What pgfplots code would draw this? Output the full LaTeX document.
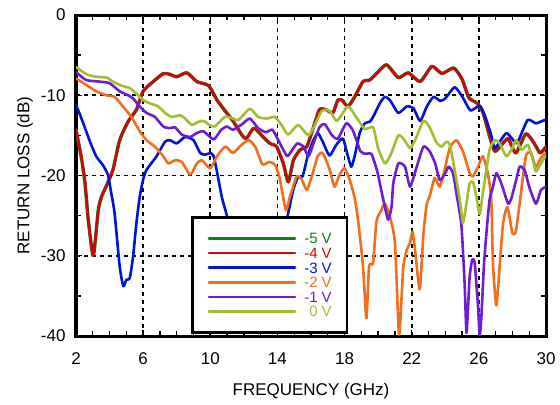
\documentclass[border=0pt]{standalone}
\usepackage{fontspec}
\setmainfont{Liberation Sans}
\usepackage{pgfplots}
\pgfplotsset{compat=1.18}
\usetikzlibrary{calc}
\definecolor{cG}{RGB}{20,125,35}
\definecolor{cR}{RGB}{200,10,10}
\definecolor{cB}{RGB}{0,20,210}
\definecolor{cO}{RGB}{240,110,30}
\definecolor{cP}{RGB}{110,30,210}
\definecolor{cL}{RGB}{160,190,50}
\begin{document}
\begin{tikzpicture}
\begin{axis}[
  scale only axis, width=470pt, height=321pt,
  xmin=2, xmax=30, ymin=-40, ymax=0,
  xtick={2,6,10,14,18,22,26,30}, xticklabels={2,6,10,14,18,22,26,30},
  ytick={-40,-30,-20,-10,0}, yticklabels={-40,-30,-20,-10,0},
  minor x tick num=3, minor y tick num=1,
  tick align=inside, major tick length=6pt, minor tick length=5pt,
  tick style={black, line width=1.4pt},
  axis line style={line width=3pt},
  grid=major, major grid style={black, line width=1.8pt, dash pattern=on 4pt off 4pt},
  tick label style={font=\fontsize{17}{17}\selectfont},
  xticklabel style={yshift=-13pt},
  yticklabel style={xshift=-7pt},
  xlabel={FREQUENCY (GHz)}, ylabel={RETURN LOSS (dB)},
  label style={font=\fontsize{17}{17}\selectfont},
  xlabel style={at={(axis description cs:0.5,-0.171)}, anchor=center},
  ylabel style={at={(axis description cs:-0.1085,0.5)}, anchor=center},
  legend image code/.code={\draw[#1, line width=2.6pt] (0pt,0pt) -- (86pt,0pt);},
  legend style={at={(axis cs:8.875,-25.09)}, anchor=north west, draw=black, line width=2.5pt, fill=white,
    inner xsep=15pt, inner ysep=15.5pt, row sep=3.9pt, column sep=8pt,
    nodes={inner sep=0pt, text height=10.7pt, text depth=0pt, font=\fontsize{15}{15}\selectfont}},
  legend cell align=left,
  every axis plot/.append style={line join=round, line cap=round, smooth, tension=0.35},
]
% -5 V (nearly identical to -4 V)
\addplot[cG, line width=3.4pt] coordinates {
(2.0,-14.3)(2.34,-18)(2.54,-21)(2.73,-25.5)(3.03,-30)(3.33,-24.3)(3.53,-22.6)(3.83,-21.2)(4.2,-19.3)(4.6,-15.6)(5.1,-13.3)(5.6,-11.8)(6.0,-9.5)(6.6,-8.3)(7.2,-7.3)(7.6,-7.4)(8.0,-7.7)(8.6,-7.2)(9.2,-8.3)(9.9,-8.8)(10.4,-10.6)(10.9,-12)(11.35,-13.2)(11.9,-15)(12.15,-15.4)(12.6,-14.1)(13.15,-15.2)(13.55,-16)(13.95,-16.4)(14.35,-18.5)(14.65,-20.8)(14.95,-18.1)(15.35,-16.8)(15.75,-16.4)(16.1,-14.3)(16.5,-11.8)(16.9,-11.8)(17.3,-12.2)(17.6,-10.6)(17.85,-10.6)(18.2,-11.4)(18.6,-10.2)(19.1,-8.3)(19.5,-8.1)(19.9,-7.3)(20.5,-6.2)(21.2,-7.8)(21.8,-7.2)(22.5,-8.3)(23.2,-6.4)(23.8,-7.3)(24.5,-6.6)(25.0,-8.0)(25.4,-10.3)(25.9,-11)(26.25,-12.2)(26.65,-15.2)(26.95,-17)(27.35,-16.2)(27.75,-15.4)(28.2,-17.2)(28.8,-14.8)(29.3,-16)(29.65,-17.2)(30,-16.4)
};
\addlegendentry{\textcolor{cG}{-5 V}}
% -4 V
\addplot[cR, line width=2.6pt] coordinates {
(2.0,-14.3)(2.34,-18)(2.54,-21)(2.73,-25.5)(3.03,-30)(3.33,-24.3)(3.53,-22.6)(3.83,-21.2)(4.2,-19.3)(4.6,-15.6)(5.1,-13.3)(5.6,-11.8)(6.0,-9.5)(6.6,-8.3)(7.2,-7.3)(7.6,-7.4)(8.0,-7.7)(8.6,-7.2)(9.2,-8.3)(9.9,-8.8)(10.4,-10.6)(10.9,-12)(11.35,-13.2)(11.9,-15)(12.15,-15.4)(12.6,-14.1)(13.15,-15.2)(13.55,-16)(13.95,-16.4)(14.35,-18.5)(14.65,-20.8)(14.95,-18.1)(15.35,-16.8)(15.75,-16.4)(16.1,-14.3)(16.5,-11.8)(16.9,-11.8)(17.3,-12.2)(17.6,-10.6)(17.85,-10.6)(18.2,-11.4)(18.6,-10.2)(19.1,-8.3)(19.5,-8.1)(19.9,-7.3)(20.5,-6.2)(21.2,-7.8)(21.8,-7.2)(22.5,-8.3)(23.2,-6.4)(23.8,-7.3)(24.5,-6.6)(25.0,-8.0)(25.4,-10.3)(25.9,-11)(26.25,-12.2)(26.65,-15.2)(26.95,-17)(27.35,-16.2)(27.75,-15.4)(28.2,-17.2)(28.8,-14.8)(29.3,-16)(29.65,-17.2)(30,-16.4)
};
\addlegendentry{\textcolor{cR}{-4 V}}
% -3 V
\addplot[cB, line width=2.6pt] coordinates {
(2.0,-11.2)(2.4,-13.3)(2.8,-15.6)(3.2,-17.6)(3.6,-18.7)(3.9,-19.9)(4.1,-22.2)(4.3,-24.7)(4.6,-31.3)(4.82,-33.8)(5.0,-33)(5.2,-32.8)(5.4,-30.1)(5.6,-25.9)(5.8,-22.6)(6.0,-20.5)(6.2,-19.3)(6.8,-17.6)(7.3,-15.8)(7.6,-15.6)(8.0,-16)(8.5,-15.2)(9.0,-15.6)(9.4,-17.2)(9.7,-17.4)(10.0,-17.2)(10.2,-17.6)(10.45,-20.1)(10.7,-22.8)(11.0,-25.1)(11.5,-30)(12.5,-35)(13.5,-34)(14.2,-29)(14.64,-24.7)(14.94,-21.8)(15.2,-20.3)(15.5,-20.1)(15.8,-17.6)(16.1,-15.8)(16.4,-14.7)(16.7,-15.8)(17.1,-17.5)(17.5,-16.2)(17.9,-15.4)(18.2,-17.6)(18.4,-18.9)(18.6,-17.6)(18.9,-14.7)(19.2,-13.5)(19.5,-13.3)(19.7,-12.7)(20.1,-11)(20.4,-10.2)(20.7,-10.6)(21.2,-12.2)(21.7,-11.4)(22.1,-11.6)(22.5,-13.2)(22.9,-11.4)(23.3,-10.2)(23.7,-10.7)(24.0,-10.4)(24.56,-9.0)(25.05,-10.3)(25.5,-11.9)(26.05,-11.3)(26.35,-12.5)(26.7,-14.7)(26.94,-16.6)(27.24,-15.8)(27.65,-14.7)(28.05,-15.6)(28.3,-15.9)(28.9,-13.1)(29.4,-13.5)(29.9,-13.1)(30,-13.2)
};
\addlegendentry{\textcolor{cB}{-3 V}}
% -2 V
\addplot[cO, line width=2.6pt] coordinates {
(2.0,-7.9)(2.6,-8.7)(3.2,-9.5)(3.8,-10)(4.3,-10.2)(4.8,-11.4)(5.3,-12.7)(5.8,-14.5)(6.2,-15.6)(6.7,-16.4)(7.2,-17.6)(7.5,-18.5)(7.9,-18.1)(8.3,-18.3)(8.8,-19.9)(9.2,-18.5)(9.5,-18.1)(10.0,-19.1)(10.4,-17.6)(10.9,-16.4)(11.35,-17.2)(11.85,-16.2)(12.3,-15.6)(12.7,-16.5)(13.1,-18.6)(13.55,-18.3)(13.9,-18.8)(14.15,-20.5)(14.5,-24.3)(14.75,-22.6)(15.15,-20.1)(15.45,-20.5)(15.75,-21.8)(16.05,-20.1)(16.4,-17.6)(16.7,-17.2)(17.1,-19.2)(17.4,-21.4)(17.7,-19.9)(18.0,-19.1)(18.3,-20.5)(18.6,-22.8)(18.8,-25.5)(19.1,-31.3)(19.3,-37.8)(19.46,-31.3)(19.7,-30.9)(19.9,-25.7)(20.2,-24.3)(20.4,-23.5)(20.7,-25.1)(21.0,-28.4)(21.24,-39.8)(21.4,-35)(21.5,-31.3)(21.7,-29.3)(21.9,-28.4)(22.05,-27)(22.2,-29.3)(22.48,-34.2)(22.7,-27.2)(22.9,-23.5)(23.07,-22.6)(23.37,-20.3)(23.67,-21.4)(23.96,-19.3)(24.26,-16.6)(24.66,-15.6)(25.05,-17)(25.45,-19.7)(25.65,-20.1)(25.95,-18.9)(26.24,-17.6)(26.54,-19.8)(26.74,-23)(26.84,-31)(27.04,-36.2)(27.24,-31.3)(27.44,-26)(27.7,-23.9)(28.0,-27.2)(28.2,-27)(28.43,-23.5)(28.8,-17.6)(29.1,-17.2)(29.4,-18.9)(29.7,-17.8)(30,-17.2)
};
\addlegendentry{\textcolor{cO}{-2 V}}
% -1 V
\addplot[cP, line width=2.6pt] coordinates {
(2.0,-7.1)(2.6,-8.1)(3.4,-8.3)(4.0,-8.5)(4.6,-9.5)(5.1,-10)(5.4,-10.4)(5.8,-11.4)(6.2,-12.2)(6.7,-12.7)(7.2,-13.9)(7.6,-14.1)(7.9,-14)(8.3,-14.9)(8.8,-15.2)(9.2,-14.7)(9.6,-14.5)(10.2,-15.5)(10.65,-14.3)(11.0,-13.9)(11.36,-14.3)(11.9,-13.6)(12.36,-12.9)(12.85,-14.1)(13.3,-14.6)(13.7,-14.3)(14.05,-15.6)(14.35,-16.8)(14.6,-17.6)(14.95,-16.6)(15.2,-16)(15.55,-16.4)(15.85,-17.6)(16.15,-16)(16.5,-14)(16.82,-13.6)(17.25,-15)(17.6,-15.4)(18.1,-13.5)(18.5,-14.4)(18.95,-17)(19.3,-17.3)(19.6,-17.3)(19.95,-19.5)(20.2,-22)(20.4,-23.9)(20.6,-25.5)(20.8,-23.9)(20.9,-21)(21.2,-18.5)(21.6,-18.9)(21.9,-21.4)(22.3,-18.9)(22.7,-16.4)(23.07,-17)(23.4,-18.5)(23.67,-20.6)(24.0,-19.7)(24.2,-18.9)(24.46,-19.7)(24.66,-22.2)(24.96,-26.2)(25.15,-33.4)(25.26,-39.6)(25.36,-36.3)(25.45,-32.6)(25.6,-30.5)(25.75,-30.9)(25.95,-36.3)(26.05,-39.9)(26.15,-37.6)(26.3,-31.3)(26.45,-27.2)(26.64,-23)(26.84,-21.4)(27.04,-19.7)(27.34,-21)(27.74,-23.5)(27.94,-22.8)(28.23,-20.5)(28.43,-18.9)(28.72,-19.3)(29.0,-21.4)(29.4,-23.5)(29.7,-21.8)(30.0,-21.4)
};
\addlegendentry{\textcolor{cP}{-1 V}}
% 0 V
\addplot[cL, line width=2.6pt] coordinates {
(2.0,-6.5)(2.64,-7.4)(3.23,-7.7)(3.83,-7.8)(4.2,-8.3)(4.7,-8.8)(5.2,-9.1)(5.6,-9.8)(6.0,-10.6)(6.4,-11)(6.9,-11.4)(7.3,-12.2)(7.7,-12.7)(8.2,-12.5)(8.5,-12.9)(8.9,-13.7)(9.3,-13.3)(9.6,-13.2)(9.95,-13.7)(10.27,-13.9)(10.87,-12.7)(11.36,-12.9)(11.66,-13.1)(12.36,-11.7)(12.85,-12.7)(13.35,-12.9)(13.85,-12.7)(14.24,-13.7)(14.64,-14.9)(15.23,-13.7)(15.85,-15)(16.23,-13.7)(16.62,-12)(16.95,-11.8)(17.2,-12.2)(17.55,-13.2)(18.2,-11.4)(18.65,-12.6)(19.2,-14.2)(19.7,-14)(20.0,-16.6)(20.4,-18.5)(20.75,-17.4)(21.2,-15)(21.5,-15.4)(21.9,-16.6)(22.2,-15.6)(22.7,-13.2)(23.07,-14)(23.45,-15.8)(23.77,-16.4)(24.06,-15.8)(24.26,-16.1)(24.56,-19.3)(24.86,-23)(25.05,-25.9)(25.26,-23.5)(25.45,-21)(25.65,-20.8)(25.85,-22.6)(26.05,-24.8)(26.24,-22.2)(26.45,-19.3)(26.64,-16.8)(26.94,-15.6)(27.24,-16)(27.63,-17.6)(27.94,-16.8)(28.23,-15.6)(28.53,-16.8)(28.93,-16.2)(29.22,-18.1)(29.4,-19.5)(29.7,-18.5)(30,-17.5)
};
\addlegendentry{\textcolor{cL}{\phantom{-}0 V}}
\end{axis}
\pgfresetboundingbox
\path ($(current axis.south west)+(-76pt,-68pt)$) rectangle ($(current axis.north east)+(14pt,15pt)$);
\end{tikzpicture}
\end{document}
